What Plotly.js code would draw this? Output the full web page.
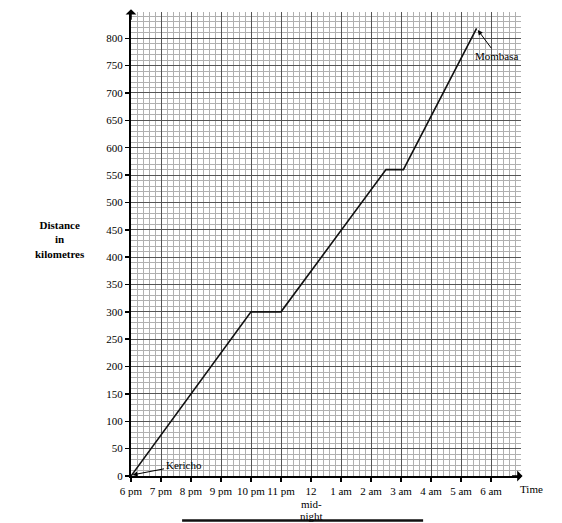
<!DOCTYPE html>
<html>
<head>
<meta charset="utf-8">
<script src="https://cdn.plot.ly/plotly-3.0.1.min.js"></script>
<style>html,body{margin:0;padding:0;background:#fff;}#chart{width:562px;height:523px;}</style>
</head>
<body>
<div id="chart"></div>
<script>
// Hours after 6 pm and distance (km) from Kericho
const hoursAfter6pm = [0, 4, 5, 8.5, 9.08, 11.52];
const distanceKm    = [0, 300, 300, 560, 560, 818];
const tickHours  = [0,1,2,3,4,5,6,7,8,9,10,11,12];
const tickLabels = ["6 pm","7 pm","8 pm","9 pm","10 pm","11 pm","12","1 am","2 am","3 am","4 am","5 am","6 am"];
const midnightNote = ["mid-", "night"];
const yTicks = [0,50,100,150,200,250,300,350,400,450,500,550,600,650,700,750,800];
const startLabel = "Kericho";
const endLabel = "Mombasa";

const serif = "Liberation Serif, Times New Roman, serif";

const trace = {
  x: hoursAfter6pm, y: distanceKm, type: "scatter", mode: "lines",
  line: {color: "#111", width: 1.6}, hoverinfo: "skip"
};

const layout = {
  width: 562, height: 523,
  margin: {l: 131, r: 41, t: 12, b: 47},
  paper_bgcolor: "#fff", plot_bgcolor: "#fff",
  showlegend: false,
  font: {family: serif, color: "#000", size: 11},
  xaxis: {
    range: [0, 13], tickmode: "array", tickvals: tickHours, ticktext: tickLabels,
    tickangle: 0,
    showgrid: true, gridcolor: "#555", gridwidth: 1,
    minor: {dtick: 0.2, showgrid: true, gridcolor: "#b0b0b0", gridwidth: 1},
    showline: true, linecolor: "#000", linewidth: 2,
    ticks: "outside", ticklen: 4, tickcolor: "#000", tickwidth: 1.5,
    zeroline: false, fixedrange: true,
    tickfont: {family: serif, size: 11, color: "#000"}
  },
  yaxis: {
    range: [0, 848], tickmode: "array", tickvals: yTicks,
    showgrid: true, gridcolor: "#555", gridwidth: 1,
    minor: {dtick: 10, showgrid: true, gridcolor: "#b0b0b0", gridwidth: 1},
    showline: true, linecolor: "#000", linewidth: 2,
    ticks: "outside", ticklen: 4, tickcolor: "#000", tickwidth: 1.5,
    zeroline: false, fixedrange: true,
    tickfont: {family: serif, size: 11, color: "#000"}
  },
  annotations: [
    {xref: "paper", yref: "paper", x: -0.182, y: 0.51, xanchor: "center", yanchor: "middle", showarrow: false,
     text: "<b>Distance<br>in<br>kilometres</b>", font: {family: serif, size: 11, color: "#000"}, align: "center"},
    {xref: "paper", yref: "paper", x: 1.027, y: -0.028, xanchor: "center", yanchor: "middle", showarrow: false,
     text: "Time", font: {family: serif, size: 11, color: "#000"}},
    {xref: "x", yref: "paper", x: tickHours[6], y: -0.061, xanchor: "center", yanchor: "middle", showarrow: false,
     text: midnightNote[0], font: {family: serif, size: 11, color: "#000"}},
    {xref: "x", yref: "paper", x: tickHours[6], y: -0.087, xanchor: "center", yanchor: "middle", showarrow: false,
     text: midnightNote[1], font: {family: serif, size: 11, color: "#000"}},
    {x: 0.05, y: 2, xref: "x", yref: "y", ax: 1.75, ay: 20, axref: "x", ayref: "y",
     text: startLabel, showarrow: true, arrowhead: 2, arrowsize: 1, arrowwidth: 1, arrowcolor: "#000",
     font: {family: serif, size: 11, color: "#000"}},
    {x: 11.52, y: 818, xref: "x", yref: "y", ax: 12.2, ay: 768, axref: "x", ayref: "y",
     text: endLabel, showarrow: true, arrowhead: 2, arrowsize: 1, arrowwidth: 1, arrowcolor: "#000",
     font: {family: serif, size: 11, color: "#000"}, standoff: 2},
    // axis arrowheads
    {xref: "paper", yref: "paper", x: 0, y: 1.006, ax: 0, ay: 12, text: "", showarrow: true,
     arrowhead: 1, arrowsize: 1.2, arrowwidth: 1.5, arrowcolor: "#000"},
    {xref: "paper", yref: "paper", x: 1.004, y: 0, ax: -12, ay: 0, text: "", showarrow: true,
     arrowhead: 1, arrowsize: 1.2, arrowwidth: 1.5, arrowcolor: "#000"}
  ],
  shapes: [
    {type: "line", xref: "paper", yref: "paper", x0: 0.131, x1: 0.749, y0: -0.096, y1: -0.096,
     line: {color: "#111", width: 2.5}, layer: "below"}
  ]
};

Plotly.newPlot("chart", [trace], layout, {staticPlot: true, displayModeBar: false});
</script>
</body>
</html>
